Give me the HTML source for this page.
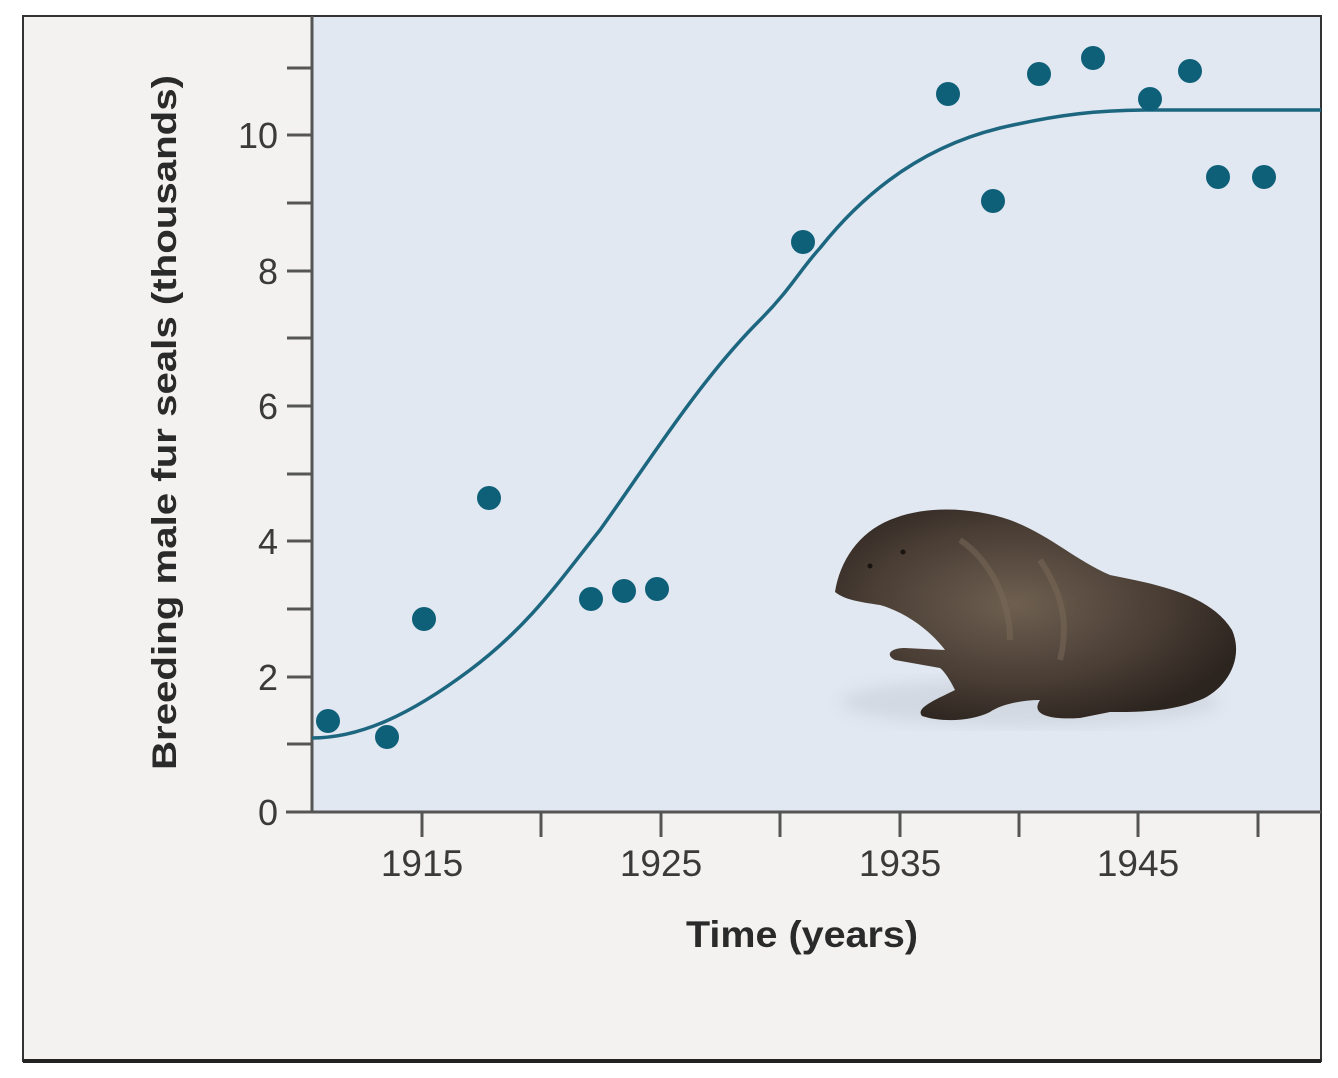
<!DOCTYPE html>
<html><head><meta charset="utf-8"><style>
html,body{margin:0;padding:0;background:#fff;}
svg{display:block;font-family:"Liberation Sans",Arial,sans-serif;}
</style></head><body>
<svg width="1338" height="1078" viewBox="0 0 1338 1078">
<defs>
<radialGradient id="sg" cx="0.45" cy="0.45" r="0.6">
<stop offset="0" stop-color="#6e5f50"/><stop offset="0.6" stop-color="#4a3e35"/><stop offset="1" stop-color="#2c241f"/>
</radialGradient>
<filter id="bl"><feGaussianBlur stdDeviation="8"/></filter>
</defs>
<rect x="0" y="0" width="1338" height="1078" fill="#fff"/>
<rect x="23" y="16" width="1298" height="1045" fill="#f3f2f0" stroke="#333" stroke-width="2"/>
<line x1="23" y1="1061" x2="1321" y2="1061" stroke="#222" stroke-width="4"/>
<rect x="312" y="17" width="1008" height="795" fill="#e1e8f1"/>
<g stroke="#555" stroke-width="3" fill="none">
<line x1="312" y1="16" x2="312" y2="812"/>
<line x1="286" y1="812" x2="1321" y2="812"/>
<line x1="287" y1="68" x2="312" y2="68"/>
<line x1="287" y1="135" x2="312" y2="135"/>
<line x1="287" y1="203" x2="312" y2="203"/>
<line x1="287" y1="271" x2="312" y2="271"/>
<line x1="287" y1="338" x2="312" y2="338"/>
<line x1="287" y1="406" x2="312" y2="406"/>
<line x1="287" y1="474" x2="312" y2="474"/>
<line x1="287" y1="541" x2="312" y2="541"/>
<line x1="287" y1="609" x2="312" y2="609"/>
<line x1="287" y1="677" x2="312" y2="677"/>
<line x1="287" y1="744" x2="312" y2="744"/>
<line x1="422" y1="812" x2="422" y2="837"/>
<line x1="541" y1="812" x2="541" y2="837"/>
<line x1="661" y1="812" x2="661" y2="837"/>
<line x1="780" y1="812" x2="780" y2="837"/>
<line x1="900" y1="812" x2="900" y2="837"/>
<line x1="1019" y1="812" x2="1019" y2="837"/>
<line x1="1138" y1="812" x2="1138" y2="837"/>
<line x1="1258" y1="812" x2="1258" y2="837"/>
</g>
<g font-size="36" fill="#3a3a3a" text-anchor="end">
<text x="278" y="148">10</text>
<text x="278" y="284">8</text>
<text x="278" y="419">6</text>
<text x="278" y="554">4</text>
<text x="278" y="690">2</text>
<text x="278" y="825">0</text>
</g>
<g font-size="37" fill="#3a3a3a" text-anchor="middle">
<text x="422" y="876">1915</text>
<text x="661" y="876">1925</text>
<text x="900" y="876">1935</text>
<text x="1138" y="876">1945</text>
</g>
<text x="686" y="947" font-size="37" font-weight="bold" fill="#2a2a2a" textLength="232" lengthAdjust="spacingAndGlyphs">Time (years)</text>
<text transform="translate(176,770) rotate(-90)" font-size="34" font-weight="bold" fill="#2a2a2a" textLength="695" lengthAdjust="spacingAndGlyphs">Breeding male fur seals (thousands)</text>
<ellipse cx="1030" cy="702" rx="190" ry="24" fill="#c2c9d2" opacity="0.5" filter="url(#bl)"/>
<path d="M835,592 C840,560 860,530 895,518 C930,505 975,508 1010,520 C1050,535 1075,560 1110,575 C1160,585 1210,595 1232,630 C1245,660 1225,690 1200,700 C1170,712 1140,712 1110,712 L1080,718 C1050,720 1030,715 1040,700 C1020,700 1000,705 990,712 C970,722 940,722 922,716 C915,708 935,700 955,690 C950,680 945,672 940,668 L895,660 C885,655 890,648 905,648 L945,650 C930,630 905,612 880,605 C860,602 845,600 835,592 Z" fill="url(#sg)"/>
<path d="M960,540 C990,560 1010,600 1010,640 M1040,560 C1060,590 1070,620 1060,660" stroke="#7a6a5a" stroke-width="6" fill="none" opacity="0.5"/>
<circle cx="870" cy="566" r="2.5" fill="#1a1410"/>
<circle cx="903" cy="552" r="2.5" fill="#1a1410"/>
<path d="M312,738 C360,738 410,715 470,670 C530,625 560,580 600,530 C650,460 700,380 760,320 C790,290 800,270 820,248 C870,185 930,145 1000,128 C1060,114 1100,110 1150,110 L1321,110" stroke="#1d6680" stroke-width="3.5" fill="none"/>
<g fill="#0e5f78">
<circle cx="328" cy="721" r="12"/><circle cx="387" cy="737" r="12"/><circle cx="424" cy="619" r="12"/>
<circle cx="489" cy="498" r="12"/><circle cx="591" cy="599" r="12"/><circle cx="624" cy="591" r="12"/>
<circle cx="657" cy="589" r="12"/><circle cx="803" cy="242" r="12"/><circle cx="948" cy="94" r="12"/>
<circle cx="993" cy="201" r="12"/><circle cx="1039" cy="74" r="12"/><circle cx="1093" cy="58" r="12"/>
<circle cx="1150" cy="99" r="12"/><circle cx="1190" cy="71" r="12"/><circle cx="1218" cy="177" r="12"/>
<circle cx="1264" cy="177" r="12"/>
</g>
</svg>
</body></html>
